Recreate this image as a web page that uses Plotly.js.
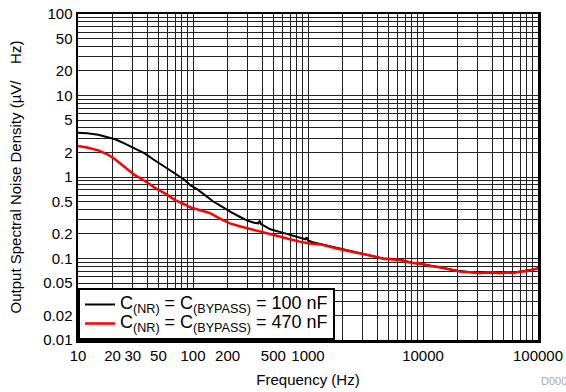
<!DOCTYPE html>
<html>
<head>
<meta charset="utf-8">
<script src="https://cdn.plot.ly/plotly-3.0.1.min.js"></script>
<style>html,body{margin:0;padding:0;background:#fff;}#chart{width:566px;height:392px;}</style>
</head>
<body>
<div id="chart"></div>
<script>
// Series: C(NR) = C(BYPASS) = 100 nF
const freq100 = [10, 12, 15, 18, 21, 25, 30, 38, 45, 57, 70, 85, 94, 110, 127, 150, 180, 210, 250, 300, 340, 370, 380, 390, 420, 470, 550, 620, 700, 800, 900, 950, 975, 1000, 1100, 1270, 1500, 1900, 2300, 2800, 3300, 4000, 4500, 5200, 6300, 7000, 8200, 9400, 11500, 14000, 17000, 21000, 26000, 31000, 38000, 47000, 55000, 60000, 70000, 80000, 94000, 100000];
const noise100 = [3.5, 3.45, 3.3, 3.1, 2.9, 2.6, 2.3, 1.95, 1.65, 1.34, 1.1, 0.92, 0.8, 0.7, 0.6, 0.5, 0.43, 0.375, 0.33, 0.29, 0.275, 0.27, 0.29, 0.265, 0.25, 0.228, 0.215, 0.205, 0.198, 0.185, 0.176, 0.172, 0.182, 0.166, 0.158, 0.151, 0.143, 0.133, 0.125, 0.117, 0.111, 0.104, 0.1, 0.099, 0.097, 0.093, 0.088, 0.086, 0.081, 0.078, 0.074, 0.07, 0.068, 0.067, 0.067, 0.067, 0.068, 0.067, 0.069, 0.071, 0.074, 0.076];
// Series: C(NR) = C(BYPASS) = 470 nF
const freq470 = [10, 12, 15, 18, 21, 25, 31, 38, 47, 57, 70, 85, 94, 110, 141, 170, 209, 250, 313, 380, 467, 560, 697, 850, 1040, 1270, 1500, 1900, 2300, 2830, 3300, 4000, 4500, 5160, 6300, 7000, 8190, 9420, 11500, 14000, 17000, 21000, 26000, 31000, 38000, 47000, 55000, 60000, 70000, 80000, 94000, 100000];
const noise470 = [2.4, 2.3, 2.12, 1.9, 1.65, 1.35, 1.06, 0.9, 0.73, 0.63, 0.52, 0.46, 0.425, 0.4, 0.36, 0.31, 0.27, 0.25, 0.228, 0.215, 0.2, 0.185, 0.172, 0.161, 0.153, 0.149, 0.14, 0.13, 0.123, 0.116, 0.11, 0.104, 0.099, 0.098, 0.096, 0.092, 0.088, 0.087, 0.081, 0.078, 0.073, 0.069, 0.068, 0.066, 0.068, 0.066, 0.068, 0.066, 0.069, 0.07, 0.074, 0.076];

const seriesNames = ['C<sub>(NR)</sub> = C<sub>(BYPASS)</sub> = 100 nF', 'C<sub>(NR)</sub> = C<sub>(BYPASS)</sub> = 470 nF'];
const xLabelVals = [10, 20, 30, 50, 100, 200, 500, 1000, 10000, 100000];
const yLabelVals = [0.01, 0.02, 0.05, 0.1, 0.2, 0.5, 1, 2, 5, 10, 20, 50, 100];

// grid at every 1..9 multiple of each decade
function gridVals(d0, d1) {
  const v = [];
  for (let d = d0; d < d1; d++) for (let m = 1; m < 10; m++) v.push(+(m * Math.pow(10, d)).toPrecision(3));
  v.push(Math.pow(10, d1));
  return v;
}
const xGrid = gridVals(1, 5);
const yGrid = gridVals(-2, 2);

const font = 'Liberation Sans, Arial, sans-serif';
const legendName = s => '<span style="font-size:18px">' + s + '</span>';
const traces = [
  {x: freq100, y: noise100, type: 'scatter', mode: 'lines', name: legendName(seriesNames[0]), line: {color: '#000000', width: 2}},
  {x: freq470, y: noise470, type: 'scatter', mode: 'lines', name: legendName(seriesNames[1]), line: {color: '#ff0000', width: 2.5}}
];
const gridStyle = {showgrid: true, gridcolor: '#222', gridwidth: 1, ticks: ''};
const layout = {
  width: 566, height: 392,
  margin: {l: 78, r: 28, t: 14, b: 52},
  paper_bgcolor: '#ffffff', plot_bgcolor: '#ffffff',
  font: {family: font, size: 15, color: '#000'},
  showlegend: true,
  legend: {x: 0, y: 0, xanchor: 'left', yanchor: 'bottom', bgcolor: '#ffffff', bordercolor: '#000', borderwidth: 2,
           font: {family: font, size: 11, color: '#000'}, tracegroupgap: 0},
  xaxis: {type: 'log', range: [1, 5], tickmode: 'array', tickvals: xLabelVals, ticktext: xLabelVals.map(String),
          showgrid: true, gridcolor: '#222', gridwidth: 1, zeroline: false,
          minor: Object.assign({tickmode: 'array', tickvals: xGrid}, gridStyle),
          showline: true, linecolor: '#000', linewidth: 2.5, mirror: true, ticks: '',
          tickfont: {family: font, size: 15}, tickangle: 0,
          title: {text: 'Frequency (Hz)', font: {family: font, size: 15}, standoff: 12}},
  yaxis: {type: 'log', range: [-2, 2], tickmode: 'array', tickvals: yLabelVals, ticktext: yLabelVals.map(String),
          showgrid: true, gridcolor: '#222', gridwidth: 1, zeroline: false,
          minor: Object.assign({tickmode: 'array', tickvals: yGrid}, gridStyle),
          showline: true, linecolor: '#000', linewidth: 2.5, mirror: true, ticks: '',
          tickfont: {family: font, size: 15},
          title: {text: 'Output Spectral Noise Density (µV/    Hz)', font: {family: font, size: 15}, standoff: 18}},
  annotations: [{xref: 'paper', yref: 'paper', x: 1, y: 0, xanchor: 'left', yanchor: 'top', xshift: 1, yshift: -33,
                 text: 'D000', showarrow: false, font: {family: font, size: 11, color: '#aaaaaa'}}]
};
Plotly.newPlot('chart', traces, layout, {staticPlot: true, displayModeBar: false});
</script>
</body>
</html>
